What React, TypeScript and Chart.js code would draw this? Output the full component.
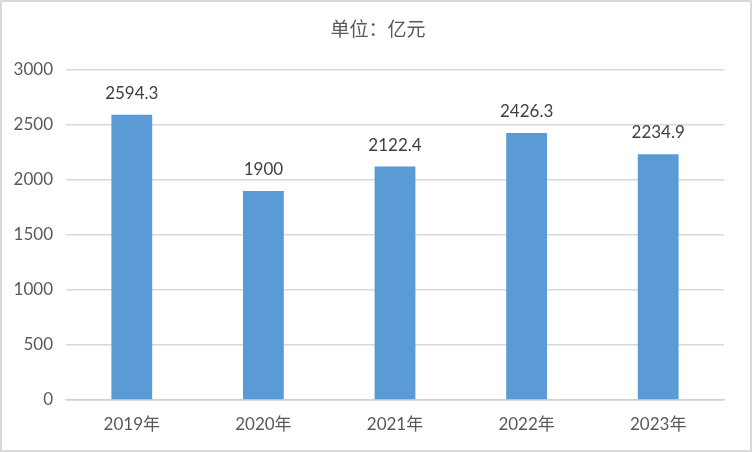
import React, { useEffect, useRef } from "react";
import { Chart, registerables } from "chart.js";

Chart.register(...registerables);

const categories = ["2019年", "2020年", "2021年", "2022年", "2023年"];
const values = [2594.3, 1900, 2122.4, 2426.3, 2234.9];
const valueLabels = ["2594.3", "1900", "2122.4", "2426.3", "2234.9"];
const titleText = "单位：亿元";
const FONT = "Lato, 'Noto Sans CJK SC', sans-serif";

const labelPlugin = {
  id: "valueLabels",
  afterDatasetsDraw(chart: any) {
    const ctx = chart.ctx;
    const meta = chart.getDatasetMeta(0);
    ctx.save();
    ctx.fillStyle = "#404040";
    ctx.font = `17px ${FONT}`;
    ctx.textAlign = "center";
    ctx.textBaseline = "bottom";
    meta.data.forEach((bar: any, i: number) => {
      ctx.fillText(valueLabels[i], bar.x, bar.y - 13);
    });
    ctx.restore();
  },
};

const titlePlugin = {
  id: "topTitle",
  afterDraw(chart: any) {
    const ctx = chart.ctx;
    ctx.save();
    ctx.fillStyle = "#595959";
    ctx.font = `19px 'Noto Sans CJK SC', sans-serif`;
    ctx.textAlign = "center";
    ctx.textBaseline = "middle";
    ctx.fillText(titleText, chart.width / 2 + 2, 27);
    ctx.restore();
  },
};

export default function App() {
  const ref = useRef<HTMLCanvasElement>(null);
  useEffect(() => {
    document.body.style.margin = "0";
    const chart = new Chart(ref.current!, {
      type: "bar",
      data: {
        labels: categories,
        datasets: [
          {
            data: values,
            backgroundColor: "#5B9BD5",
            barPercentage: 0.31,
            categoryPercentage: 1,
          },
        ],
      },
      options: {
        animation: false,
        responsive: false,
        maintainAspectRatio: false,
        layout: { padding: { top: 68, right: 26, bottom: 0, left: 0 } },
        plugins: { legend: { display: false }, tooltip: { enabled: false }, title: { display: false } },
        scales: {
          x: {
            grid: { display: false },
            border: { display: true, color: "#d0d0d0", width: 1.5 },
            ticks: { color: "#595959", font: { size: 17, family: FONT }, padding: 6 },
            afterFit(scale: any) {
              scale.height = 50;
            },
          },
          y: {
            min: 0,
            max: 3000,
            grid: { color: "#d9d9d9", lineWidth: 1.5, drawTicks: false },
            border: { display: false },
            ticks: {
              stepSize: 500,
              color: "#595959",
              font: { size: 17, family: FONT },
              padding: 13,
              callback: (v: any) => String(v),
            },
            afterFit(scale: any) {
              scale.width = 64;
            },
          },
        },
      },
      plugins: [labelPlugin, titlePlugin],
    });
    return () => chart.destroy();
  }, []);
  return (
    <div style={{ position: "absolute", left: 0, top: 0, width: 752, height: 452, boxSizing: "border-box", border: "2px solid #d9d9d9", background: "#fff" }}>
      <canvas ref={ref} width={748} height={448} style={{ display: "block" }} />
    </div>
  );
}
